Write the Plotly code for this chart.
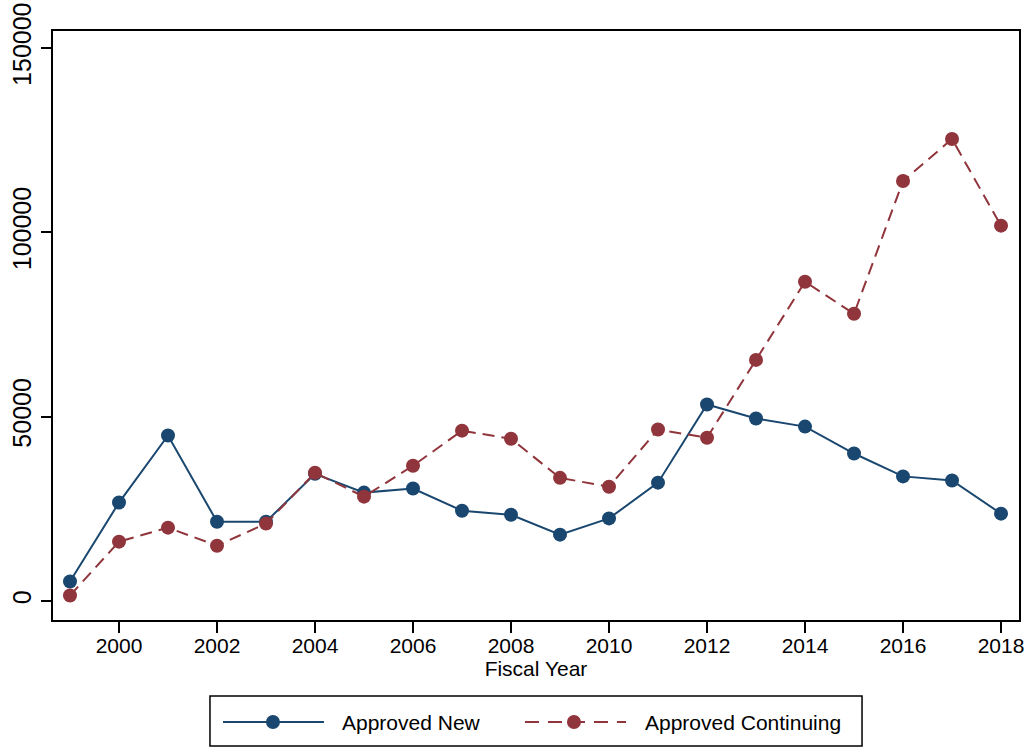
import plotly.graph_objects as go

years = list(range(1999, 2019))
approved_new = [5300, 26700, 44900, 21500, 21500, 34500, 29400, 30500, 24500, 23400,
                18000, 22400, 32100, 53300, 49500, 47300, 40000, 33800, 32700, 23700]
approved_continuing = [1500, 16100, 19900, 15000, 21000, 34800, 28300, 36700, 46200, 44000,
                       33400, 31000, 46500, 44300, 65400, 86600, 77900, 113900, 125300, 101800]
x_ticks = list(range(2000, 2019, 2))
y_ticks = [0, 50000, 100000, 150000]
series_names = ["Approved New", "Approved Continuing"]

NAVY = "#1a476f"
MAROON = "#90353b"
FONT = "Liberation Sans, Arial, sans-serif"
DASH = "12px,7px"

fig = go.Figure()
fig.add_trace(go.Scatter(
    x=years, y=approved_new, name=series_names[0], mode="lines+markers",
    line=dict(color=NAVY, width=2),
    marker=dict(color=NAVY, size=14),
))
fig.add_trace(go.Scatter(
    x=years, y=approved_continuing, name=series_names[1], mode="lines+markers",
    line=dict(color=MAROON, width=2, dash=DASH),
    marker=dict(color=MAROON, size=14),
))

# Boxed legend drawn below the plot area (paper coordinates)
shapes = [
    dict(type="rect", xref="paper", yref="paper", x0=0.1625, x1=0.8375, y0=-0.2139, y1=-0.129,
         line=dict(color="black", width=1.5), fillcolor="white", layer="above"),
]
annotations = []
legend_y = -0.1732
for (lx0, lx1, mx, tx), color, dash, name in zip(
    [(0.1760, 0.2805, 0.2277, 0.2971), (0.4886, 0.5932, 0.5393, 0.6108)],
    [NAVY, MAROON], ["solid", "14px,9px"], series_names,
):
    shapes.append(dict(type="line", xref="paper", yref="paper", x0=lx0, x1=lx1,
                       y0=legend_y, y1=legend_y, line=dict(color=color, width=2, dash=dash),
                       layer="above"))
    shapes.append(dict(type="circle", xref="paper", yref="paper",
                       xsizemode="pixel", ysizemode="pixel",
                       xanchor=mx, yanchor=legend_y, x0=-7, x1=7, y0=-7, y1=7,
                       fillcolor=color, line=dict(color=color, width=0), layer="above"))
    annotations.append(dict(text=name, xref="paper", yref="paper", x=tx, y=legend_y,
                            xanchor="left", yanchor="middle", showarrow=False,
                            font=dict(size=21, color="black", family=FONT)))

fig.update_layout(
    width=1026, height=749,
    margin=dict(l=53, r=7, t=31, b=129, autoexpand=False),
    paper_bgcolor="white", plot_bgcolor="white",
    font=dict(family=FONT, color="black", size=21),
    showlegend=False,
    shapes=shapes,
    annotations=annotations,
)
fig.update_xaxes(
    range=[1998.653, 2018.367], tickvals=x_ticks,
    showgrid=False, zeroline=False,
    showline=True, linecolor="black", linewidth=2, mirror=True,
    ticks="outside", ticklen=11, tickwidth=1.5, tickcolor="black",
    tickfont=dict(size=21), ticklabelstandoff=-5,
    title=dict(text="Fiscal Year", font=dict(size=21), standoff=0),
)
fig.update_yaxes(
    range=[-5150, 154600], tickvals=y_ticks, tickformat="d",
    showgrid=False, zeroline=False,
    showline=True, linecolor="black", linewidth=2, mirror=True,
    ticks="outside", ticklen=10, tickwidth=1.5, tickcolor="black",
    tickangle=-90, tickfont=dict(size=25),
)

fig.write_html("out.html")
